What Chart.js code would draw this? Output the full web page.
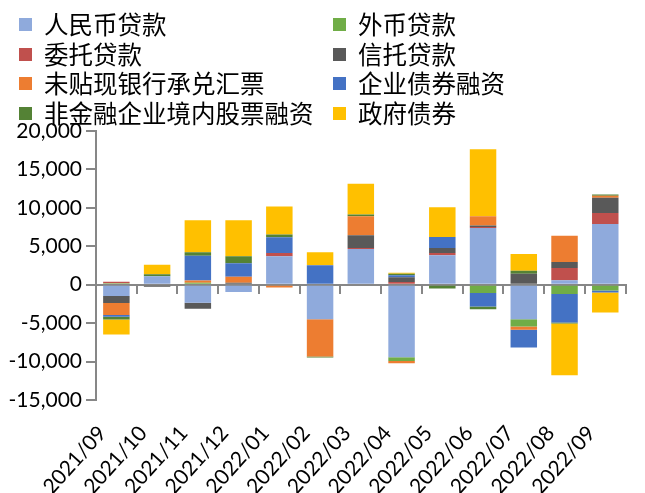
<!DOCTYPE html>
<html><head><meta charset="utf-8">
<script src="https://cdn.jsdelivr.net/npm/chart.js@4"></script>
<style>
html,body{margin:0;padding:0;background:#fff;}
#wrap{position:relative;width:645px;height:493px;overflow:hidden;}
#c{position:absolute;left:0;top:0;}
#legend{position:absolute;left:0;top:0;width:645px;height:124px;font-family:"Noto Sans CJK SC";font-size:24.5px;color:#000;}
.item{position:absolute;height:30px;line-height:30px;white-space:nowrap;}
.box{position:absolute;left:0;top:9px;width:13px;height:13px;}
.txt{position:absolute;left:25px;top:0;}
</style></head>
<body><div id="wrap"><canvas id="c" width="645" height="493"></canvas><div id="legend"></div></div>
<script>
const categories = ['2021/09','2021/10','2021/11','2021/12','2022/01','2022/02','2022/03','2022/04','2022/05','2022/06','2022/07','2022/08','2022/09'];
const seriesNames = ['人民币贷款','外币贷款','委托贷款','信托贷款','未贴现银行承兑汇票','企业债券融资','非金融企业境内股票融资','政府债券'];
const rmbLoans      = [-1480, 1090, -2350, -960, 3700, -4480, 4650, -9440, 3830, 7390, -4480, 565, 7910];
const fxLoans       = [200, -120, 260, 0, 0, 0, 0, -480, 0, -1090, -960, -1220, -740];
const entrustLoans  = [200, 0, 0, 130, 435, 0, 130, 350, 300, 130, 130, 1610, 1430];
const trustLoans    = [-910, -130, -780, 130, 0, 130, 1650, 610, 650, 170, 1300, 780, 1960];
const acceptBills   = [-1565, 0, 300, 780, -350, -4870, 2480, -300, -130, 1220, -435, 3430, 260];
const corpBonds     = [-220, 0, 3220, 1740, 2040, 2390, 0, 260, 1440, -1740, -2300, -3700, -260];
const equityFin     = [-350, 260, 450, 910, 350, -130, 220, 220, -350, -350, 390, -130, 170];
const govBonds      = [-1960, 1260, 4170, 4700, 3650, 1700, 4000, 130, 3870, 8700, 2170, -6740, -2610];
const yTicks = [-15000, -10000, -5000, 0, 5000, 10000, 15000, 20000];

const seriesData = [rmbLoans, fxLoans, entrustLoans, trustLoans, acceptBills, corpBonds, equityFin, govBonds];
const colors = ['#8FAADC','#70AD47','#C0504D','#595959','#ED7D31','#4472C4','#548235','#FFC000'];

const datasets = seriesNames.map((n, i) => ({
  label: n, data: seriesData[i], backgroundColor: colors[i], borderWidth: 0,
  barPercentage: 0.65, categoryPercentage: 1.0, xAxisID: 'x', yAxisID: 'y'
}));

const axisGray = '#878787';

const chart = new Chart(document.getElementById('c'), {
  type: 'bar',
  data: {labels: categories, datasets},
  options: {
    responsive: false, animation: false,
    layout: {padding: {top: 131, right: 0, left: 0, bottom: 0}},
    plugins: {legend: {display: false}, tooltip: {enabled: false}},
    scales: {
      x: {
        stacked: true, offset: true,
        grid: {display: false, drawTicks: false}, border: {display: false},
        ticks: {color: '#000', font: {family: 'Lato', size: 21}, minRotation: 48, maxRotation: 48, autoSkip: false, padding: 21, labelOffset: -14},
        afterFit: s => { s.height = 93; }
      },
      x2: {
        type: 'category', labels: categories, position: {y: 0}, offset: true,
        grid: {display: true, drawOnChartArea: false, offset: true, drawTicks: true, tickLength: 8, color: axisGray, lineWidth: 2},
        border: {display: true, color: axisGray, width: 2},
        ticks: {display: false}
      },
      y: {
        stacked: true, min: yTicks[0], max: yTicks[yTicks.length - 1],
        afterBuildTicks: s => { s.ticks = yTicks.map(v => ({value: v})); },
        ticks: {color: '#000', font: {family: 'Lato', size: 21}, padding: 4,
          callback: v => v.toLocaleString('en-US')},
        grid: {display: true, drawOnChartArea: false, drawTicks: true, tickLength: 10, color: axisGray, lineWidth: 2},
        border: {display: true, color: axisGray, width: 2},
        afterFit: s => { s.width = 96; }
      }
    }
  }
});

// HTML legend in two columns, built from chart datasets
const leg = document.getElementById('legend');
const rowY = [9, 39, 68, 98];
const colX = [19, 333];
chart.data.datasets.forEach((ds, i) => {
  const it = document.createElement('div');
  it.className = 'item';
  it.style.left = colX[i % 2] + 'px';
  it.style.top = rowY[Math.floor(i / 2)] + 'px';
  const b = document.createElement('span'); b.className = 'box'; b.style.background = ds.backgroundColor;
  const t = document.createElement('span'); t.className = 'txt'; t.textContent = ds.label;
  it.appendChild(b); it.appendChild(t); leg.appendChild(it);
});
</script>
</body></html>
